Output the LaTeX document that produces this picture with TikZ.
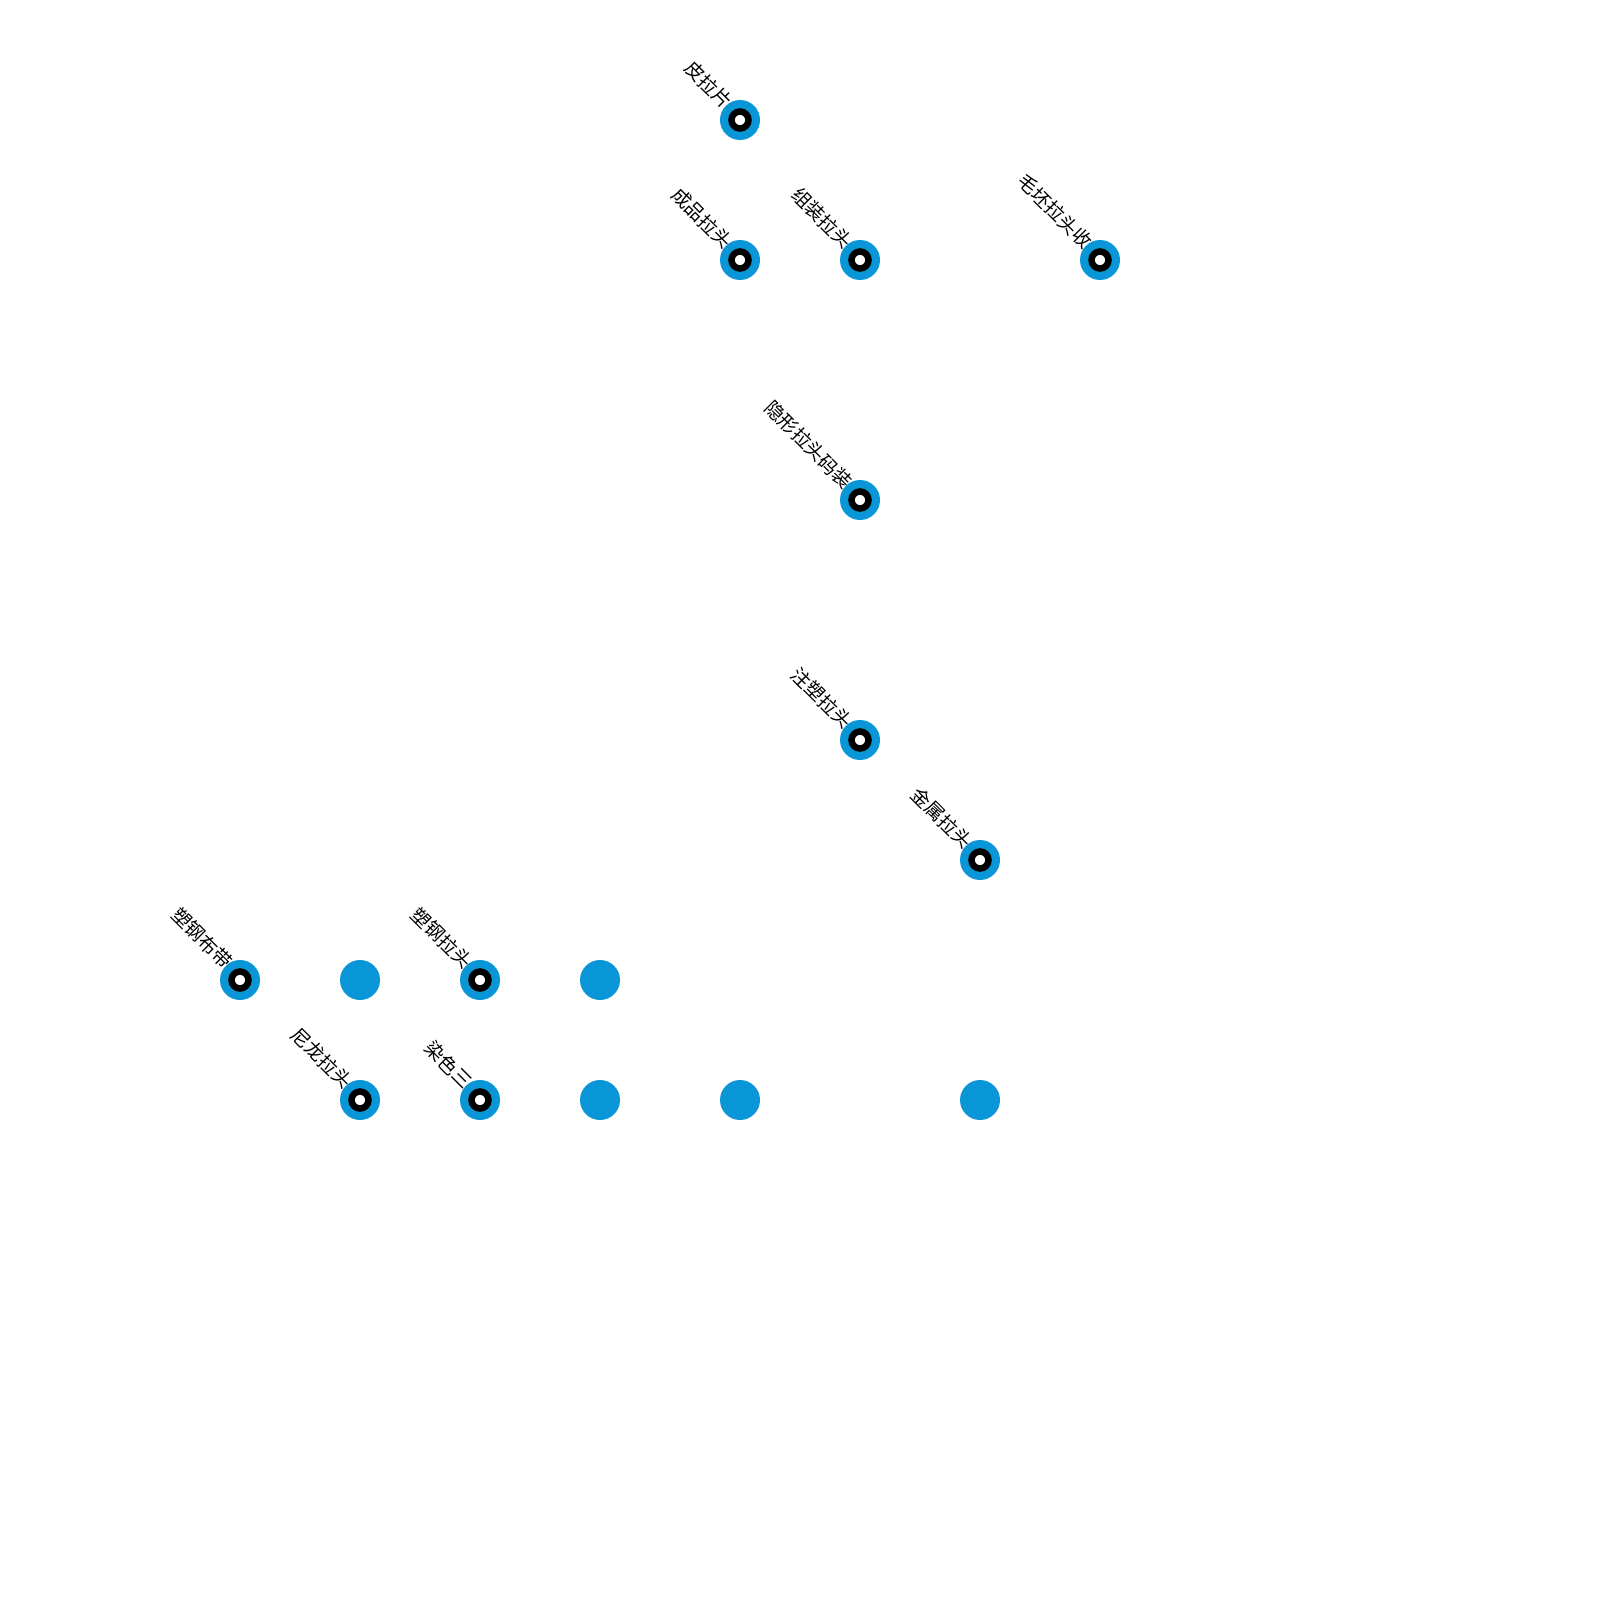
\documentclass[tikz,border=0pt]{standalone}
\usepackage{fontspec}
\newfontfamily\cjk{Noto Sans CJK SC}
\definecolor{nodeblue}{RGB}{9,150,214}
\begin{document}
\begin{tikzpicture}[x=1pt,y=-1pt,
  dot/.style={circle,fill=nodeblue,minimum size=40pt,inner sep=0pt,outer sep=0pt},
  ring/.style={circle,draw=black,line width=6.5pt,fill=white,minimum size=17pt,inner sep=0pt,outer sep=0pt},
  lab/.style={anchor=east,rotate=-45,inner sep=0pt,font=\cjk\fontsize{19}{21}\selectfont,text=black}]
\useasboundingbox (0,0) rectangle (1600,1600);
\node[dot] (a) at (740,120) {};
\node[dot] (b) at (740,260) {};
\node[dot] (c) at (860,260) {};
\node[dot] (d) at (1100,260) {};
\node[dot] (e) at (860,500) {};
\node[dot] (f) at (860,740) {};
\node[dot] (g) at (980,860) {};
\node[dot] (h) at (240,980) {};
\node[dot] (i) at (360,980) {};
\node[dot] (j) at (480,980) {};
\node[dot] (k) at (600,980) {};
\node[dot] (l) at (360,1100) {};
\node[dot] (m) at (480,1100) {};
\node[dot] (n) at (600,1100) {};
\node[dot] (o) at (740,1100) {};
\node[dot] (p) at (980,1100) {};
\foreach \r in {a,b,c,d,e,f,g,h,j,l,m}{\node[ring] (r\r) at (\r) {};}
\node[lab] (ta) at ([shift={(-11,-15)}]a.center) {皮拉片};
\node[lab] (tb) at ([shift={(-11,-15)}]b.center) {成品拉头};
\node[lab] (tc) at ([shift={(-11,-15)}]c.center) {组装拉头};
\node[lab] (td) at ([shift={(-11,-15)}]d.center) {毛坯拉头收};
\node[lab] (te) at ([shift={(-11,-15)}]e.center) {隐形拉头码装};
\node[lab] (tf) at ([shift={(-11,-15)}]f.center) {注塑拉头};
\node[lab] (tg) at ([shift={(-11,-15)}]g.center) {金属拉头};
\node[lab] (th) at ([shift={(-11,-15)}]h.center) {塑钢布带};
\node[lab] (tj) at ([shift={(-11,-15)}]j.center) {塑钢拉头};
\node[lab] (tl) at ([shift={(-11,-15)}]l.center) {尼龙拉头};
\node[lab] (tm) at ([shift={(-11,-15)}]m.center) {染色三};
\end{tikzpicture}
\end{document}
